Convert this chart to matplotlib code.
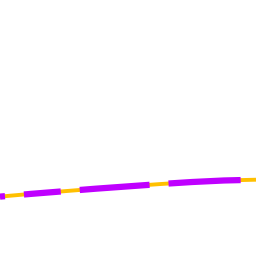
import matplotlib
matplotlib.use("Agg")
import matplotlib.pyplot as plt

x = [0, 1, 2, 3, 4, 5, 6, 7, 8]
y = [2.32, 2.43, 2.53, 2.63, 2.72, 2.81, 2.89, 2.95, 2.98]

plt.rcParams['lines.scale_dashes'] = False
fig = plt.figure(figsize=(2.56, 2.56), dpi=100)
ax = fig.add_axes([0, 0, 1, 1])
ax.plot(x, y, color='#FFC000', lw=2.8, solid_capstyle='butt')
ax.plot(x, y, color='#BF00FF', lw=4.5,
        linestyle=(0, (3.6, 13.7, 26.6, 13.7, 50.4, 13.7, 52.0, 13.7)),
        dash_capstyle='butt')
ax.set_xlim(0, 8)
ax.set_ylim(0, 10)
ax.axis('off')
fig.savefig('out.png', dpi=100)
